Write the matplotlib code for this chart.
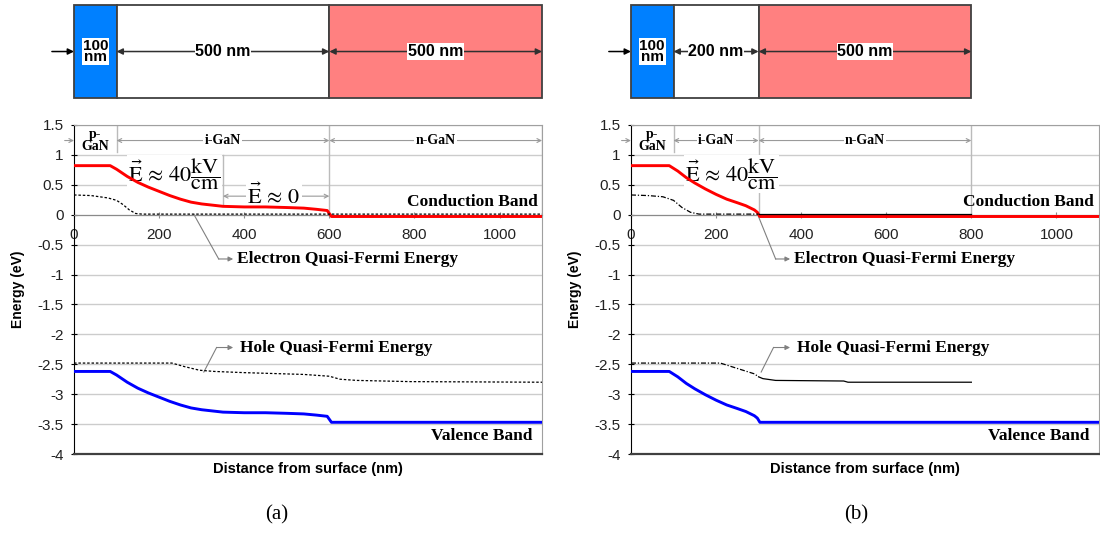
import numpy as np
import matplotlib.pyplot as plt
from matplotlib.patches import Rectangle
from matplotlib.ticker import FuncFormatter

plt.rcParams['font.family'] = ['Liberation Sans', 'DejaVu Sans']
plt.rcParams['mathtext.fontset'] = 'stix'

# layer stacks, thickness in nm
layers_a = [100, 500, 500]
layers_b = [100, 200, 500]
layer_labels_a = ['100\nnm', '500 nm', '500 nm']
layer_labels_b = ['100\nnm', '200 nm', '500 nm']
layer_colors = ['#0080ff', '#ffffff', '#ff8080']
region_names = ['p-\nGaN', 'i-GaN', 'n-GaN']

# (a) p 100 / i 500 / n 500
x_a = [0, 85, 100, 125, 150, 175, 200, 225, 250, 275, 300, 325, 350, 400,
       450, 500, 540, 570, 595, 605, 1100]
ec_a = [0.82, 0.82, 0.76, 0.64, 0.54, 0.46, 0.39, 0.32, 0.26, 0.21, 0.18,
        0.16, 0.14, 0.13, 0.13, 0.12, 0.11, 0.09, 0.07, -0.03, -0.03]
ev_a = [-2.62, -2.62, -2.68, -2.80, -2.90, -2.98, -3.05, -3.12, -3.18, -3.23,
        -3.26, -3.28, -3.30, -3.31, -3.31, -3.32, -3.33, -3.35, -3.37, -3.47,
        -3.47]
xn_a = [0, 40, 80, 100, 115, 130, 145, 160, 1100]
efn_a = [0.33, 0.32, 0.28, 0.24, 0.17, 0.08, 0.02, 0.01, 0.01]
xp_a = [0, 230, 260, 295, 330, 400, 540, 600, 625, 665, 790, 1100]
efp_a = [-2.48, -2.48, -2.54, -2.60, -2.62, -2.64, -2.67, -2.70, -2.75,
         -2.77, -2.79, -2.80]

# (b) p 100 / i 200 / n 500
x_b = [0, 90, 110, 130, 150, 175, 200, 225, 250, 270, 290, 297, 303, 1100]
ec_b = [0.82, 0.82, 0.73, 0.62, 0.53, 0.43, 0.34, 0.26, 0.20, 0.15, 0.08,
        0.04, -0.03, -0.03]
ev_b = [-2.62, -2.62, -2.71, -2.82, -2.91, -3.01, -3.10, -3.18, -3.24, -3.29,
        -3.36, -3.40, -3.47, -3.47]
xn_b = [0, 40, 75, 100, 120, 140, 160, 300, 800]
efn_b = [0.33, 0.32, 0.30, 0.24, 0.12, 0.04, 0.01, 0.01, 0.01]
xp_b = [0, 210, 250, 290, 300, 310, 340, 500, 510, 800]
efp_b = [-2.48, -2.48, -2.57, -2.66, -2.71, -2.74, -2.77, -2.78, -2.80, -2.80]

GRAY = '#9a9a9a'
SERIF = 'Liberation Serif'
E_FIELD = r'$\vec{\mathrm{E}}\,\approx\,40\dfrac{\mathrm{kV}}{\mathrm{cm}}$'


def draw_stack(ax, thick, labels):
    edges = np.concatenate([[0], np.cumsum(thick)])
    for i in range(len(thick)):
        ax.add_patch(Rectangle((edges[i], 0), thick[i], 1, fc=layer_colors[i],
                               ec='#404040', lw=1.3, clip_on=False))
    arrow = dict(arrowstyle='-|>', color='black', lw=1.1, mutation_scale=9,
                 shrinkA=0, shrinkB=0)
    ax.annotate('', xy=(0, 0.5), xytext=(-52, 0.5), arrowprops=arrow,
                annotation_clip=False)
    both = dict(arrow, arrowstyle='<|-|>', color='#303030')
    for i in range(1, len(thick)):
        ax.annotate('', xy=(edges[i], 0.5), xytext=(edges[i + 1], 0.5),
                    arrowprops=both)
    box = dict(fc='white', ec='none', pad=0.5)
    ax.text(edges[0] + thick[0] / 2, 0.5, labels[0], ha='center', va='center',
            weight='bold', size=11, linespacing=0.8, bbox=box)
    for i in range(1, len(thick)):
        ax.text((edges[i] + edges[i + 1]) / 2, 0.5, labels[i], ha='center',
                va='center', weight='bold', size=11.5, bbox=box)
    ax.set_xlim(0, 1100)
    ax.set_ylim(0, 1)
    ax.axis('off')


def setup_axes(ax):
    ax.set_xlim(0, 1100)
    ax.set_ylim(-4, 1.5)
    ax.set_xticks(range(0, 1001, 200))
    ax.set_yticks(np.arange(-4, 1.51, 0.5))
    ax.yaxis.set_major_formatter(FuncFormatter(lambda v, p: '%g' % v))
    ax.spines['bottom'].set_position(('data', 0))
    ax.spines['bottom'].set_color('#8a8a8a')
    ax.spines['top'].set_color('#a0a0a0')
    ax.spines['right'].set_color('#a0a0a0')
    ax.spines['left'].set_color('black')
    ax.axhline(-4, color='#404040', lw=1.6, clip_on=False, zorder=5)
    ax.yaxis.grid(True, color='#cccccc', lw=1)
    ax.set_axisbelow(True)
    ax.tick_params(axis='x', direction='inout', length=5, pad=7,
                   color='#8a8a8a', labelcolor='#222222', labelsize=11)
    ax.tick_params(axis='y', direction='inout', length=5, pad=5,
                   labelcolor='#222222', labelsize=11)
    ax.text(-0.12, 0.5, 'Energy (eV)', transform=ax.transAxes, rotation=90,
            ha='center', va='center', weight='bold', size=10)
    ax.text(0.5, -0.045, 'Distance from surface (nm)', transform=ax.transAxes,
            ha='center', va='center', weight='bold', size=10.5)


def draw_regions(ax, bounds):
    y = 1.24
    arr = dict(arrowstyle='<->', color=GRAY, lw=0.8, mutation_scale=7,
               shrinkA=0, shrinkB=0)
    ax.annotate('', xy=(0, y), xytext=(-22, y),
                arrowprops=dict(arr, arrowstyle='->'), annotation_clip=False)
    ax.text((bounds[0] + bounds[1]) / 2, y, region_names[0], ha='center',
            va='center', family=SERIF, weight='bold', size=10,
            linespacing=0.85)
    for i in (1, 2):
        ax.annotate('', xy=(bounds[i], y), xytext=(bounds[i + 1], y),
                    arrowprops=arr)
        ax.text((bounds[i] + bounds[i + 1]) / 2, y, region_names[i],
                ha='center', va='center', family=SERIF, weight='bold',
                size=10, bbox=dict(fc='white', ec='none', pad=1))
    ax.plot([bounds[1], bounds[1]], [1.05, 1.5], color='#bbbbbb', lw=1)
    for b in bounds[2:]:
        ax.plot([b, b], [0, 1.5], color='#bbbbbb', lw=1)


def draw_bands(ax, x, ec, ev, xn, efn, xp, efp, split=None):
    ax.plot(x, ec, color='#ff0000', lw=2.1, zorder=4)
    ax.plot(x, ev, color='#0000ff', lw=2.1, zorder=4)
    for xs, ys in ((xn, efn), (xp, efp)):
        xs, ys = np.array(xs), np.array(ys)
        if split is None:
            ax.plot(xs, ys, color='black', lw=0.9, ls=(0, (2, 1.5)), zorder=4)
        else:
            m = xs <= split
            ax.plot(xs[m], ys[m], color='black', lw=0.9,
                    ls=(0, (4, 1.5, 1, 1.5)), zorder=4)
            m = xs >= split
            ax.plot(xs[m], ys[m], color='black', lw=0.9, zorder=4)


def draw_labels(ax, n_start, p_start):
    tx = dict(family=SERIF, weight='bold', size=12.5, va='center')
    ax.text(1089, 0.22, 'Conduction Band', ha='right', **tx)
    ax.text(1078, -3.70, 'Valence Band', ha='right', **tx)
    lead = dict(arrowstyle='-|>', color='#808080', lw=0.8, mutation_scale=7,
                shrinkA=0, shrinkB=0)
    # electron quasi-Fermi leader
    ax.plot([n_start, 340], [0.0, -0.74], color='#808080', lw=0.8)
    ax.annotate('', xy=(374, -0.74), xytext=(340, -0.74), arrowprops=lead)
    ax.text(383, -0.74, 'Electron Quasi-Fermi Energy', ha='left', **tx)
    # hole quasi-Fermi leader
    ax.plot([p_start, 335], [-2.63, -2.22], color='#808080', lw=0.8)
    ax.annotate('', xy=(374, -2.22), xytext=(335, -2.22), arrowprops=lead)
    ax.text(390, -2.22, 'Hole Quasi-Fermi Energy', ha='left', **tx)
    ax.text(128, 0.68, E_FIELD, ha='left', va='center', size=16, zorder=3,
            bbox=dict(fc='white', ec='none', pad=1))


fig = plt.figure(figsize=(11, 5.35), dpi=100)

ax_sa = fig.add_axes([0.0673, 0.8168, 0.4255, 0.1738])
ax_sb = fig.add_axes([0.5736, 0.8168, 0.4255, 0.1738])
draw_stack(ax_sa, layers_a, layer_labels_a)
draw_stack(ax_sb, layers_b, layer_labels_b)

ax_a = fig.add_axes([0.0673, 0.1514, 0.4255, 0.615])
ax_b = fig.add_axes([0.5736, 0.1514, 0.4255, 0.615])

for ax, layers in ((ax_a, layers_a), (ax_b, layers_b)):
    setup_axes(ax)
    bounds = list(np.concatenate([[0], np.cumsum(layers)]))
    draw_regions(ax, bounds)

draw_bands(ax_a, x_a, ec_a, ev_a, xn_a, efn_a, xp_a, efp_a)
draw_bands(ax_b, x_b, ec_b, ev_b, xn_b, efn_b, xp_b, efp_b, split=300)
draw_labels(ax_a, 282, 305)
draw_labels(ax_b, 298, 306)

# zero-field stretch of the i-layer in (a)
arr0 = dict(arrowstyle='<->', color=GRAY, lw=0.8, mutation_scale=7,
            shrinkA=0, shrinkB=0)
ax_a.plot([350, 350], [0.17, 1.0], color='#bbbbbb', lw=1)
ax_a.annotate('', xy=(350, 0.31), xytext=(600, 0.31), arrowprops=arr0)
ax_a.text(470, 0.31, r'$\vec{\mathrm{E}}\,\approx\,0$', ha='center',
          va='center', size=16, bbox=dict(fc='white', ec='none', pad=1))

fig.text(0.2518, 0.037, '(a)', ha='center', va='center', family=SERIF, size=15)
fig.text(0.778, 0.037, '(b)', ha='center', va='center', family=SERIF, size=15)

fig.savefig('out.png', dpi=100)
